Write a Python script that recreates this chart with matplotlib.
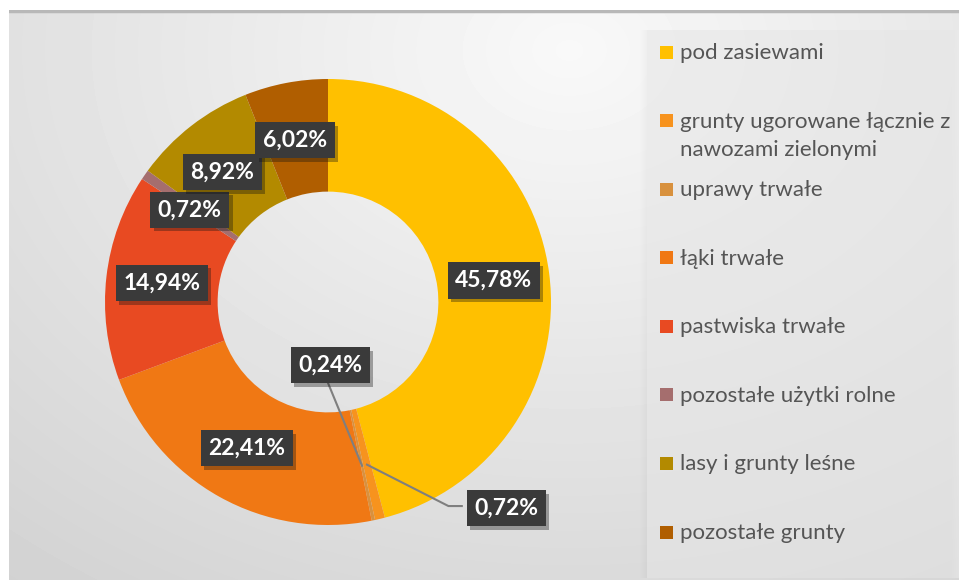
import numpy as np
import matplotlib
matplotlib.use("Agg")
from matplotlib import pyplot as plt
from matplotlib.patches import Rectangle
import matplotlib.patheffects as pe

# data
categories = ["pod zasiewami", "grunty ugorowane łącznie z\nnawozami zielonymi",
              "uprawy trwałe", "łąki trwałe", "pastwiska trwałe",
              "pozostałe użytki rolne", "lasy i grunty leśne", "pozostałe grunty"]
shares = [45.78, 0.72, 0.24, 22.41, 14.94, 0.72, 8.92, 6.02]
colors = ["#FFC000", "#F7931E", "#D8913E", "#F07814", "#E84A22",
          "#A56E6E", "#B38A00", "#B05E00"]

W, H = 959, 583
fig = plt.figure(figsize=(W / 100, H / 100), dpi=100)
fig.patch.set_facecolor("white")

# background gradient inside the chart frame
bg = fig.add_axes([9 / W, 3 / H, 950 / W, 570 / H])
yy, xx = np.mgrid[0:570, 0:950]
d = np.hypot((xx - 560) / 950.0, (yy - 40) / 570.0 * 0.8)
img = 0.975 - 0.16 * np.clip(d, 0, 1)
bg.imshow(img, cmap="gray", vmin=0, vmax=1, aspect="auto", interpolation="bilinear")
bg.axhline(0, color="#b8b8b8", lw=2.5)
bg.set_axis_off()

# legend panel
pan = fig.add_axes([0, 0, 1, 1], zorder=1)
pan.set_xlim(0, W)
pan.set_ylim(H, 0)
pan.set_axis_off()
pan.patch.set_alpha(0)
for k in range(8):
    pan.add_patch(Rectangle((647 - k, 30), 312, 548, facecolor="black",
                            alpha=0.005, lw=0))
pan.add_patch(Rectangle((647, 30), 312, 548, facecolor="#ececec", alpha=0.55, lw=0))

step = (532 - 52) / (len(categories) - 1)
for i, (lab, c) in enumerate(zip(categories, colors)):
    y = 52 + i * step
    pan.add_patch(Rectangle((660, y - 6.5), 13, 13, facecolor=c, lw=0))
    for j, line in enumerate(lab.split("\n")):
        pan.text(680, y + 1 + j * 28, line, ha="left", va="center", fontsize=16,
                 family="Lato", color="#555555")

# donut
cx, cy, R = 328, 302, 223
ax = fig.add_axes([(cx - R) / W, (H - cy - R) / H, 2 * R / W, 2 * R / H], zorder=2)
wedges, _ = ax.pie(shares, colors=colors, startangle=90, counterclock=False,
                   radius=1, wedgeprops=dict(width=0.505, linewidth=0))
ax.set_xlim(-1, 1)
ax.set_ylim(-1, 1)
ax.set_aspect("auto")
ax.set_axis_off()

# label placement (data coords), None = centred on the ring
label_pos = [None, (0.80, -0.925), (0.01, -0.283), None, None,
             (-0.62, 0.413), (-0.475, 0.583), (-0.148, 0.726)]
leader = [False, True, True, False, False, False, False, False]

for w, v, pos, ld in zip(wedges, shares, label_pos, leader):
    mid = np.deg2rad((w.theta1 + w.theta2) / 2)
    anchor = (0.75 * np.cos(mid), 0.75 * np.sin(mid))
    p = anchor if pos is None else pos
    if ld:
        if p[1] < -0.8:
            knee = (p[0] - 0.26, p[1] + 0.01)
            ax.plot([anchor[0], knee[0], p[0] - 0.2], [anchor[1], knee[1], knee[1]],
                    color="#7f7f7f", lw=1.5, zorder=3)
        else:
            ax.plot([anchor[0], p[0] - 0.01], [anchor[1], p[1] - 0.08],
                    color="#7f7f7f", lw=1.5, zorder=3)
    txt = ("%.2f%%" % v).replace(".", ",")
    t = ax.text(p[0], p[1], txt, ha="center", va="center", fontsize=16.5,
                family="Lato", fontweight="bold", color="white", zorder=5,
                bbox=dict(boxstyle="square,pad=0.33", facecolor="#3a3a3a",
                          edgecolor="none"))
    t.get_bbox_patch().set_path_effects(
        [pe.SimplePatchShadow(offset=(2.5, -2.5), alpha=0.35), pe.Normal()])

fig.savefig("out.png", dpi=100)
